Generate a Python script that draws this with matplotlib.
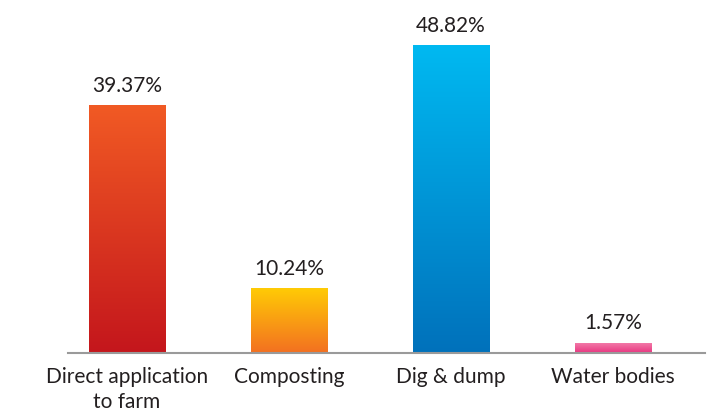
import numpy as np
import matplotlib.pyplot as plt
from matplotlib.colors import LinearSegmentedColormap

# Share of disposal methods
categories = ["Direct application\nto farm", "Composting", "Dig & dump", "Water bodies"]
values = [39.37, 10.24, 48.82, 1.57]
labels = ["39.37%", "10.24%", "48.82%", "1.57%"]
# gradient colors (bottom, top)
gradients = [("#c4161c", "#f15a24"), ("#f37021", "#ffcb05"),
             ("#0071bb", "#00b9f1"), ("#e8357f", "#f279a8")]

plt.rcParams['font.family'] = ['Lato', 'DejaVu Sans']

fig = plt.figure(figsize=(7.2, 4.18), dpi=100)
ax = fig.add_axes([68 / 720, 65 / 418, 637 / 720, 346 / 418])

x = np.arange(len(categories))
width = 0.47
bars = ax.bar(x, values, width=width, color="none", edgecolor="none")

grad = np.linspace(0, 1, 256).reshape(-1, 1)
for bar, (c0, c1) in zip(bars, gradients):
    cmap = LinearSegmentedColormap.from_list("g", [c0, c1])
    x0 = bar.get_x()
    h = bar.get_height()
    ax.imshow(grad, cmap=cmap, origin="lower", aspect="auto",
              extent=[x0, x0 + bar.get_width(), 0, h], zorder=2)

for xi, v, lab in zip(x, values, labels):
    ax.annotate(lab, (xi, v), xytext=(0, 7), textcoords="offset points",
                ha="center", va="bottom", fontsize=15, color="#231f20")

ax.set_xlim(-0.364, 3.568)
ax.set_ylim(0, 55)
ax.set_xticks(x)
ax.set_xticklabels(categories, fontsize=15, color="#231f20", linespacing=1.35)
ax.tick_params(axis="x", length=0, pad=10)
ax.set_yticks([])
for s in ["top", "right", "left"]:
    ax.spines[s].set_visible(False)
ax.spines["bottom"].set_color("#9a9a9a")
ax.spines["bottom"].set_linewidth(1.5)

fig.savefig("out.png", dpi=100)
